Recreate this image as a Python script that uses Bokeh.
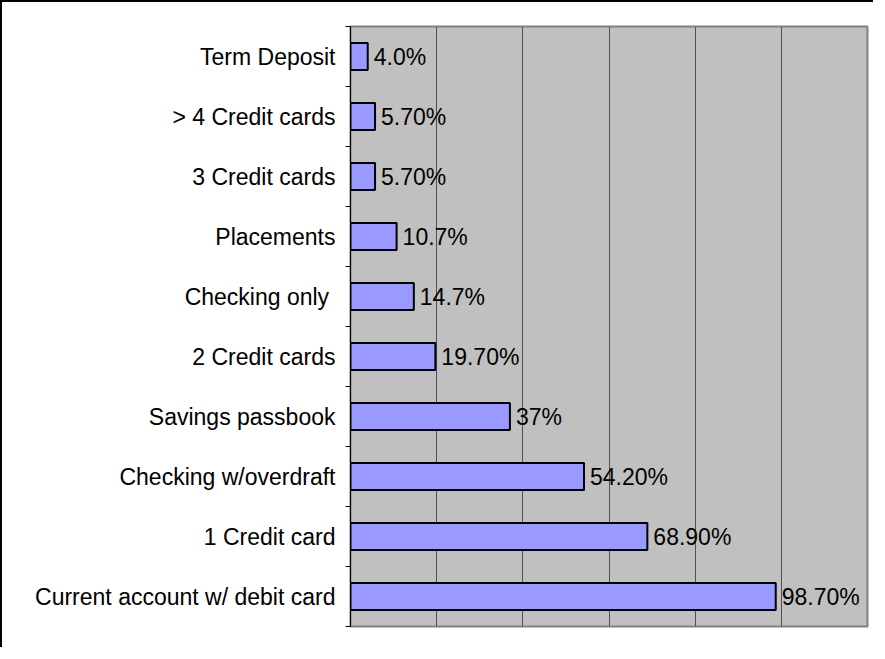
from bokeh.plotting import figure
from bokeh.models import FixedTicker, Range1d, ColumnDataSource
from bokeh.core.properties import value
from bokeh.embed import file_html
from bokeh.resources import INLINE

# Data (bottom to top)
categories = [
    "Current account w/ debit card",
    "1 Credit card",
    "Checking w/overdraft",
    "Savings passbook",
    "2 Credit cards",
    "Checking only ",
    "Placements",
    "3 Credit cards",
    "> 4 Credit cards",
    "Term Deposit",
]
values = [98.7, 68.9, 54.2, 37.0, 19.7, 14.7, 10.7, 5.7, 5.7, 4.0]
value_labels = ["98.70%", "68.90%", "54.20%", "37%", "19.70%", "14.7%", "10.7%", "5.70%", "5.70%", "4.0%"]
x_grid_ticks = [20, 40, 60, 80, 100, 120]

FONT = "Liberation Sans"

positions = [i + 0.5 for i in range(len(categories))]
boundaries = list(range(len(categories) + 1))

src = ColumnDataSource(dict(y=positions, v=values, lab=value_labels))

p = figure(
    width=873, height=647,
    x_range=Range1d(0, 120), y_range=Range1d(0, len(categories)),
    output_backend="svg", toolbar_location=None,
    min_border_left=348, min_border_right=8, min_border_top=24, min_border_bottom=23,
)
p.styles = {"border-left": "2px solid black", "border-top": "2px solid black"}
p.background_fill_color = "#C0C0C0"
p.border_fill_color = "white"
p.outline_line_color = "#808080"
p.outline_line_width = 2

p.xaxis.visible = False
p.xgrid.ticker = FixedTicker(ticks=x_grid_ticks)
p.xgrid.grid_line_color = "#505050"
p.xgrid.grid_line_width = 1
p.ygrid.visible = False

yax = p.yaxis[0]
yax.ticker = FixedTicker(ticks=positions, minor_ticks=boundaries)
yax.major_label_overrides = {pos: c for pos, c in zip(positions, categories)}
yax.major_tick_out = 0
yax.major_tick_in = 0
yax.minor_tick_out = 5
yax.minor_tick_in = 0
yax.minor_tick_line_color = "black"
yax.axis_line_color = "black"
yax.axis_line_width = 1
yax.major_label_text_font = FONT
yax.major_label_text_font_size = "23px"
yax.major_label_text_color = "black"
yax.major_label_standoff = 10

p.hbar(y="y", right="v", left=0, height=0.45, source=src,
       fill_color="#9999FF", line_color="black", line_width=2)

p.text(x="v", y="y", text="lab", source=src, x_offset=6,
       text_baseline="middle", text_align="left",
       text_font=value(FONT), text_font_size="23px", text_color="black")

open("out.html", "w").write(file_html(p, INLINE))
